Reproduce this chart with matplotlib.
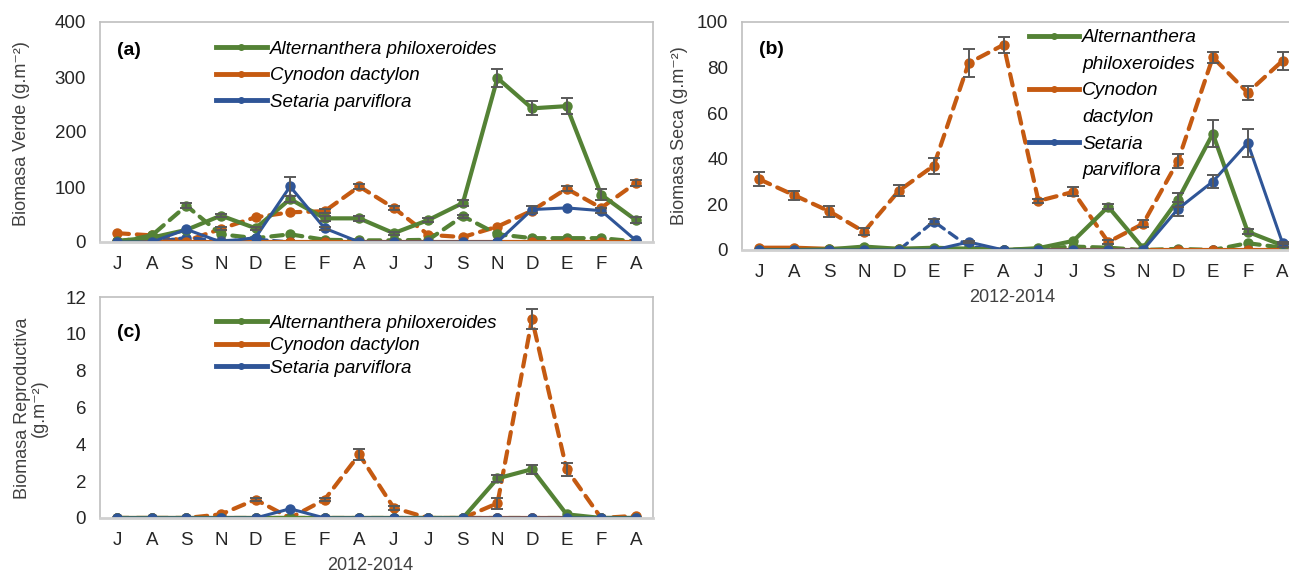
import numpy as np
import matplotlib.pyplot as plt
from matplotlib.lines import Line2D

plt.rcParams['font.family'] = ['Liberation Sans', 'DejaVu Sans']

meses = ['J', 'A', 'S', 'N', 'D', 'E', 'F', 'A', 'J', 'J', 'S', 'N', 'D', 'E', 'F', 'A']
especies = ['Alternanthera philoxeroides', 'Cynodon dactylon', 'Setaria parviflora']

# (a) biomasa verde -- linea llena y linea punteada para cada especie
verde_alt = [2, 8, 22, 48, 25, 78, 43, 43, 16, 40, 71, 298, 243, 247, 86, 40]
verde_alt_err = [0, 0, 0, 3, 3, 6, 4, 4, 3, 3, 5, 16, 13, 15, 10, 5]
verde_alt_p = [0, 12, 66, 14, 7, 14, 4, 3, 3, 4, 47, 14, 7, 7, 7, 1]
verde_alt_p_err = [0, 0, 5, 0, 0, 0, 0, 0, 0, 0, 3, 0, 0, 0, 0, 0]
verde_cyn = [1, 1, 0, 0, 0, 0, 0, 0, 0, 0, 0, 0, 0, 0, 0, 0]
verde_cyn_p = [16, 12, 2, 24, 45, 54, 56, 101, 62, 13, 9, 28, 57, 97, 62, 107]
verde_cyn_p_err = [0, 0, 0, 3, 0, 0, 4, 4, 4, 0, 0, 0, 0, 4, 0, 5]
verde_set = [0, 0, 23, 0, 8, 101, 25, 0, 0, 0, 0, 0, 59, 62, 57, 3]
verde_set_err = [0, 0, 0, 0, 0, 17, 3, 0, 0, 0, 0, 0, 6, 0, 5, 0]
verde_set_p = [0, 0, 8, 2, 5, 0, 0, 0, 0, 0, 0, 0, 0, 0, 0, 0]

# (b) biomasa seca
seca_alt = [0, 0, 0.3, 1.5, 0.5, 1, 0.5, 0, 0.8, 4, 19, 0.8, 22, 51, 8, 2]
seca_alt_err = [0, 0, 0, 0, 0, 0, 0, 0, 0, 0, 1, 0, 3, 6, 1, 0.5]
seca_alt_p = [0, 0, 0, 0.5, 0, 0.5, 0.5, 0, 0.5, 1.5, 1, 0, 0.5, 0, 3, 1]
seca_cyn = [1, 1, 0.5, 0.5, 0.5, 0.5, 0.3, 0, 0, 0, 0, 0, 0, 0, 0, 0]
seca_cyn_p = [31, 24, 17, 8, 26, 37, 82, 90, 21.5, 25.5, 3.5, 11.5, 39, 84.5, 69, 83]
seca_cyn_p_err = [3, 2, 2.5, 1.5, 2.5, 3.5, 6, 3.5, 1, 2, 1, 1.5, 3, 2.5, 3, 4]
seca_set = [0, 0, 0, 0, 0, 0, 3.5, 0, 0, 0, 0, 0, 18, 30, 47, 3]
seca_set_err = [0, 0, 0, 0, 0, 0, 0.5, 0, 0, 0, 0, 0, 3, 3, 6, 0.5]
seca_set_p = [0, 0, 0, 0, 0, 12.5, 1.5, 0, 0, 0, 0, 0, 0, 0, 0, 0]
seca_set_p_err = [0, 0, 0, 0, 0, 1, 0, 0, 0, 0, 0, 0, 0, 0, 0, 0]

# (c) biomasa reproductiva
rep_alt = [0, 0, 0, 0, 0, 0, 0, 0, 0, 0, 0, 2.15, 2.65, 0.2, 0, 0]
rep_alt_err = [0, 0, 0, 0, 0, 0, 0, 0, 0, 0, 0, 0.2, 0.25, 0, 0, 0]
rep_alt_p = [0] * 16
rep_cyn = [0] * 16
rep_cyn_p = [0, 0, 0, 0.2, 1.0, 0, 1.0, 3.45, 0.55, 0, 0, 0.8, 10.8, 2.65, 0, 0.12]
rep_cyn_p_err = [0, 0, 0, 0, 0.1, 0, 0.1, 0.3, 0.1, 0, 0, 0.3, 0.55, 0.35, 0, 0]
rep_set = [0, 0, 0, 0, 0, 0.5, 0, 0, 0, 0, 0, 0, 0, 0, 0, 0]
rep_set_p = [0] * 16

verde = '#548235'
naranja = '#C55A11'
azul = '#2F5597'
x = np.arange(len(meses))


def serie(ax, y, color, punteada, lw, err=None):
    ls = (0, (2.8, 1.9)) if punteada else '-'
    ax.plot(x, y, color=color, lw=lw, ls=ls, marker='o', ms=6.5,
            dash_capstyle='round', solid_capstyle='round')
    if err is not None:
        e = np.array(err, dtype=float)
        m = e > 0
        ax.errorbar(x[m], np.array(y, dtype=float)[m], yerr=e[m], fmt='none',
                    ecolor='#595959', elinewidth=1.4, capsize=4, capthick=1.4, zorder=3)


def ejes(ax, ymax, paso, xlim_r=15.5):
    ax.set_xlim(-0.5, xlim_r)
    ax.set_ylim(0, ymax)
    ax.set_yticks(np.arange(0, ymax + paso / 2, paso))
    ax.set_xticks(x)
    ax.set_xticklabels(meses)
    ax.tick_params(length=0, labelsize=13.5, colors='#262626', pad=10)
    for s in ax.spines.values():
        s.set_color('#bfbfbf')
        s.set_linewidth(1.2)
    ax.spines['bottom'].set_color('#d0d0d0')
    ax.spines['bottom'].set_linewidth(2)


fig = plt.figure(figsize=(12.89, 5.76), dpi=100)
W, H = 1289, 576

# panel (a)
axa = fig.add_axes([100 / W, 1 - 242 / H, 553 / W, 220 / H])
serie(axa, verde_cyn_p, naranja, True, 3, verde_cyn_p_err)
serie(axa, verde_alt_p, verde, True, 3, verde_alt_p_err)
serie(axa, verde_set_p, azul, True, 2.4)
serie(axa, verde_cyn, naranja, False, 3)
serie(axa, verde_alt, verde, False, 3, verde_alt_err)
serie(axa, verde_set, azul, False, 2.2, verde_set_err)
ejes(axa, 400, 100)
axa.text(0.03, 0.85, '(a)', transform=axa.transAxes, fontsize=14, fontweight='bold')

# panel (b)
axb = fig.add_axes([742 / W, 1 - 250 / H, 558 / W, 228 / H])
serie(axb, seca_cyn_p, naranja, True, 3, seca_cyn_p_err)
serie(axb, seca_alt_p, verde, True, 3)
serie(axb, seca_set_p, azul, True, 2.4, seca_set_p_err)
serie(axb, seca_cyn, naranja, False, 3)
serie(axb, seca_alt, verde, False, 3, seca_alt_err)
serie(axb, seca_set, azul, False, 2.2, seca_set_err)
ejes(axb, 100, 20)
axb.text(0.03, 0.86, '(b)', transform=axb.transAxes, fontsize=14, fontweight='bold')

# panel (c)
axc = fig.add_axes([100 / W, 1 - 518 / H, 553 / W, 221 / H])
serie(axc, rep_cyn_p, naranja, True, 3, rep_cyn_p_err)
serie(axc, rep_alt_p, verde, True, 3)
serie(axc, rep_set_p, azul, True, 2.4)
serie(axc, rep_cyn, naranja, False, 3)
serie(axc, rep_alt, verde, False, 3, rep_alt_err)
serie(axc, rep_set, azul, False, 2.2)
ejes(axc, 12, 2)
axc.text(0.03, 0.82, '(c)', transform=axc.transAxes, fontsize=14, fontweight='bold')

# leyendas
h = [Line2D([], [], color=c, lw=3.5, marker='o', ms=4) for c in (verde, naranja, azul)]
prop = {'style': 'italic', 'size': 13.5}
axa.legend(h, especies, loc='upper left', bbox_to_anchor=(0.21, 0.915), frameon=False,
           prop=prop, handlelength=2.7, handletextpad=0.15, labelspacing=0.5,
           borderpad=0, borderaxespad=0)
axc.legend(h, especies, loc='upper left', bbox_to_anchor=(0.21, 0.92), frameon=False,
           prop=prop, handlelength=2.7, handletextpad=0.15, labelspacing=0.28,
           borderpad=0, borderaxespad=0)
vacio = Line2D([], [], color='none')
hb = [h[0], vacio, h[1], vacio, h[2], vacio]
lb = ['Alternanthera', 'philoxeroides', 'Cynodon', 'dactylon', 'Setaria', 'parviflora']
axb.legend(hb, lb, loc='upper left', bbox_to_anchor=(0.515, 0.97), frameon=False,
           prop={'style': 'italic', 'size': 13.8}, handlelength=2.6, handletextpad=0.15,
           labelspacing=0.48, borderpad=0, borderaxespad=0)

# titulos de ejes
fig.text(22 / W, 1 - 134 / H, 'Biomasa Verde (g.m⁻²)', rotation=90, ha='center', va='center',
         fontsize=13, color='#404040')
fig.text(679 / W, 1 - 136 / H, 'Biomasa Seca (g.m⁻²)', rotation=90, ha='center', va='center',
         fontsize=13, color='#404040')
fig.text(31 / W, 1 - 408 / H, 'Biomasa Reproductiva\n(g.m⁻²)', rotation=90, ha='center',
         va='center', fontsize=13, color='#404040', linespacing=1.0)
fig.text(1012 / W, 1 - 297 / H, '2012-2014', ha='center', va='center', fontsize=13,
         color='#404040')
fig.text(370 / W, 1 - 566 / H, '2012-2014', ha='center', va='center', fontsize=13,
         color='#404040')

fig.savefig('out.png', dpi=100)
